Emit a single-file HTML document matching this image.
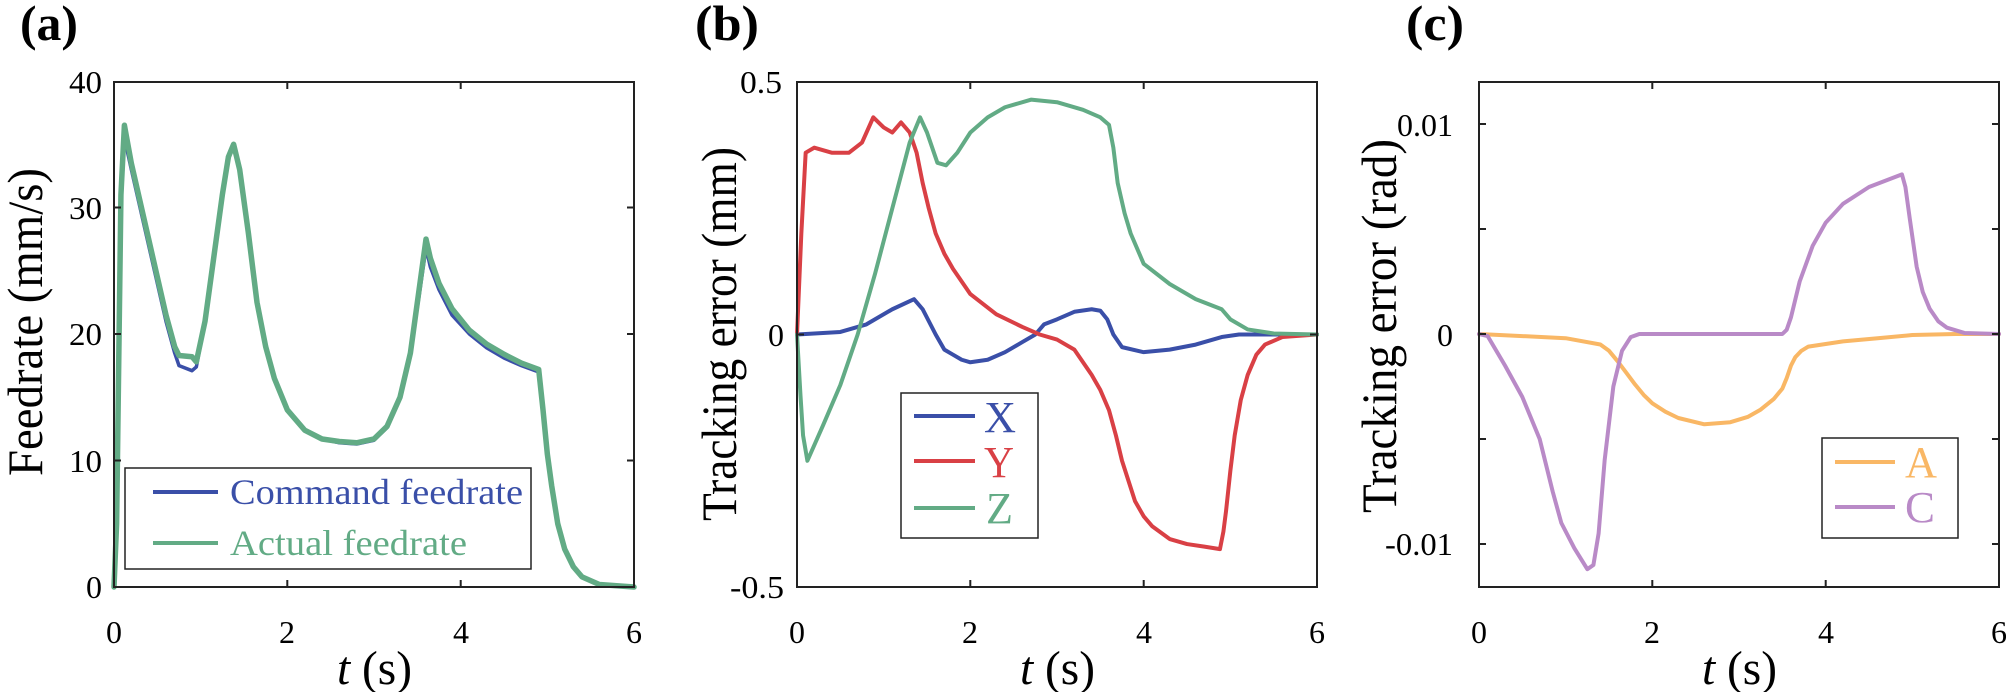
<!DOCTYPE html>
<html><head><meta charset="utf-8"><style>
html,body{margin:0;padding:0;background:#fff;}
svg{display:block;font-family:"Liberation Serif","DejaVu Serif","Times New Roman",serif;}
.tk{font-size:32px;fill:#000;}
.lab{font-size:50px;fill:#000;}
.xl{font-size:48px;fill:#000;}
.ttl{font-size:50px;font-weight:bold;fill:#000;}
.ax{fill:none;stroke:#222;stroke-width:2;}
.tm{stroke:#222;stroke-width:2;}
.ln{fill:none;vector-effect:non-scaling-stroke;stroke-linejoin:round;stroke-linecap:round;}
</style></head><body>
<svg width="2006" height="692" viewBox="0 0 2006 692" xmlns="http://www.w3.org/2000/svg">
<text class="ttl" x="20" y="40" textLength="58" lengthAdjust="spacingAndGlyphs">(a)</text>
<text class="ttl" x="695" y="40" textLength="64" lengthAdjust="spacingAndGlyphs">(b)</text>
<text class="ttl" x="1406" y="40" textLength="58" lengthAdjust="spacingAndGlyphs">(c)</text>

<!-- ===== Panel a ===== -->
<g transform="translate(114,587) scale(86.67,-12.65)">
<polyline class="ln" stroke="#3a4fa8" stroke-width="3.5" points="0,0 0.03,5 0.08,30 0.12,35.5 0.2,33 0.4,27 0.6,21 0.7,18.5 0.75,17.5 0.9,17.1 0.95,17.4 1.05,21 1.15,26 1.25,31 1.32,34 1.38,35 1.45,33 1.55,28 1.65,22.5 1.75,19 1.85,16.5 2,14 2.2,12.4 2.4,11.7 2.6,11.4 2.8,11.3 3,11.6 3.15,12.6 3.3,15 3.42,18.5 3.52,23 3.6,26.8 3.65,25.3 3.75,23.5 3.9,21.5 4.1,20 4.3,18.9 4.5,18.1 4.7,17.5 4.9,17 4.95,14 5,10.5 5.05,8 5.12,5 5.2,3 5.3,1.6 5.4,0.8 5.6,0.2 6,0"/>
<polyline class="ln" stroke="#62ab85" stroke-width="5.5" points="0,0 0.03,5 0.08,31 0.12,36.5 0.2,33.5 0.4,27.5 0.6,21.5 0.7,19 0.75,18.3 0.9,18.2 0.95,17.8 1.05,21 1.15,26 1.25,31 1.32,34 1.38,35 1.45,33 1.55,28 1.65,22.5 1.75,19 1.85,16.5 2,14 2.2,12.4 2.4,11.7 2.6,11.5 2.8,11.4 3,11.7 3.15,12.7 3.3,15 3.42,18.5 3.52,23.5 3.6,27.5 3.65,26 3.75,24 3.9,22 4.1,20.3 4.3,19.2 4.5,18.4 4.7,17.7 4.9,17.2 4.95,14 5,10.5 5.05,8 5.12,5 5.2,3 5.3,1.6 5.4,0.8 5.6,0.2 6,0"/>
</g>
<rect class="ax" x="114" y="82" width="520" height="505"/>
<g class="tm">
<line x1="287.3" y1="587" x2="287.3" y2="580"/><line x1="460.7" y1="587" x2="460.7" y2="580"/>
<line x1="287.3" y1="82" x2="287.3" y2="89"/><line x1="460.7" y1="82" x2="460.7" y2="89"/>
<line x1="114" y1="460.5" x2="121" y2="460.5"/><line x1="114" y1="334" x2="121" y2="334"/><line x1="114" y1="207.5" x2="121" y2="207.5"/>
<line x1="634" y1="460.5" x2="627" y2="460.5"/><line x1="634" y1="334" x2="627" y2="334"/><line x1="634" y1="207.5" x2="627" y2="207.5"/>
</g>
<g class="tk">
<text x="86" y="598" textLength="16" lengthAdjust="spacingAndGlyphs">0</text>
<text x="69" y="472" textLength="33" lengthAdjust="spacingAndGlyphs">10</text>
<text x="69" y="345" textLength="33" lengthAdjust="spacingAndGlyphs">20</text>
<text x="69" y="219" textLength="33" lengthAdjust="spacingAndGlyphs">30</text>
<text x="69" y="93" textLength="33" lengthAdjust="spacingAndGlyphs">40</text>
</g>
<g class="tk" text-anchor="middle">
<text x="114" y="643">0</text><text x="287" y="643">2</text><text x="461" y="643">4</text><text x="634" y="643">6</text>
</g>
<text class="lab" transform="translate(42,476) rotate(-90)" textLength="308" lengthAdjust="spacingAndGlyphs">Feedrate (mm/s)</text>
<text class="xl" x="337" y="684" textLength="75" lengthAdjust="spacingAndGlyphs"><tspan font-style="italic">t</tspan> (s)</text>
<rect x="125" y="468" width="406" height="101" fill="#fff" stroke="#222" stroke-width="1.5"/>
<line x1="153" y1="492" x2="218" y2="492" stroke="#3a4fa8" stroke-width="4"/>
<line x1="153" y1="543" x2="218" y2="543" stroke="#62ab85" stroke-width="4"/>
<text x="230" y="504" font-size="36" fill="#3a4fa8" textLength="293" lengthAdjust="spacingAndGlyphs">Command feedrate</text>
<text x="230" y="555" font-size="36" fill="#62ab85" textLength="237" lengthAdjust="spacingAndGlyphs">Actual feedrate</text>

<!-- ===== Panel b ===== -->
<g transform="translate(797,334.5) scale(86.67,-505)">
<polyline class="ln" stroke="#3a4fa8" stroke-width="4" points="0,0 0.5,0.005 0.8,0.02 1.1,0.05 1.35,0.07 1.45,0.05 1.6,0 1.7,-0.03 1.8,-0.04 1.9,-0.05 2,-0.055 2.2,-0.05 2.4,-0.035 2.6,-0.015 2.75,0 2.85,0.02 3,0.03 3.2,0.045 3.4,0.05 3.5,0.047 3.58,0.03 3.65,0 3.75,-0.025 4,-0.035 4.3,-0.03 4.6,-0.02 4.9,-0.005 5.1,0 6,0"/>
<polyline class="ln" stroke="#d94045" stroke-width="4" points="0,0 0.05,0.2 0.1,0.36 0.2,0.37 0.4,0.36 0.6,0.36 0.75,0.38 0.88,0.43 1,0.41 1.1,0.4 1.2,0.42 1.3,0.4 1.38,0.36 1.45,0.3 1.52,0.25 1.6,0.2 1.7,0.16 1.8,0.13 2,0.08 2.3,0.04 2.6,0.015 2.8,0 3,-0.01 3.2,-0.03 3.4,-0.08 3.5,-0.11 3.6,-0.15 3.68,-0.2 3.75,-0.25 3.9,-0.33 4,-0.36 4.1,-0.38 4.3,-0.405 4.5,-0.415 4.7,-0.42 4.88,-0.425 4.92,-0.39 4.95,-0.35 5,-0.27 5.05,-0.2 5.12,-0.13 5.2,-0.08 5.3,-0.04 5.4,-0.02 5.6,-0.005 6,0"/>
<polyline class="ln" stroke="#62ab85" stroke-width="4" points="0,0 0.04,-0.12 0.07,-0.2 0.12,-0.25 0.3,-0.18 0.5,-0.1 0.7,0 0.9,0.12 1.1,0.25 1.3,0.38 1.42,0.43 1.5,0.4 1.62,0.34 1.72,0.335 1.85,0.36 2,0.4 2.2,0.43 2.4,0.45 2.7,0.465 3,0.46 3.3,0.445 3.5,0.43 3.6,0.415 3.65,0.37 3.7,0.3 3.78,0.24 3.85,0.2 4,0.14 4.3,0.1 4.6,0.07 4.9,0.05 5,0.03 5.2,0.01 5.5,0.002 6,0"/>
</g>
<rect class="ax" x="797" y="82" width="520" height="505"/>
<g class="tm">
<line x1="970.3" y1="587" x2="970.3" y2="580"/><line x1="1143.7" y1="587" x2="1143.7" y2="580"/>
<line x1="970.3" y1="82" x2="970.3" y2="89"/><line x1="1143.7" y1="82" x2="1143.7" y2="89"/>
<line x1="797" y1="334.5" x2="804" y2="334.5"/><line x1="1317" y1="334.5" x2="1310" y2="334.5"/>
</g>
<g class="tk">
<text x="730" y="598" textLength="54" lengthAdjust="spacingAndGlyphs">-0.5</text>
<text x="768" y="346" textLength="16" lengthAdjust="spacingAndGlyphs">0</text>
<text x="740" y="93" textLength="42" lengthAdjust="spacingAndGlyphs">0.5</text>
</g>
<g class="tk" text-anchor="middle">
<text x="797" y="643">0</text><text x="970" y="643">2</text><text x="1144" y="643">4</text><text x="1317" y="643">6</text>
</g>
<text class="lab" transform="translate(736,521) rotate(-90)" textLength="374" lengthAdjust="spacingAndGlyphs">Tracking error (mm)</text>
<text class="xl" x="1020" y="684" textLength="75" lengthAdjust="spacingAndGlyphs"><tspan font-style="italic">t</tspan> (s)</text>
<rect x="901" y="393" width="137" height="145" fill="#fff" stroke="#222" stroke-width="1.5"/>
<line x1="914" y1="416" x2="975" y2="416" stroke="#3a4fa8" stroke-width="4"/>
<line x1="914" y1="461" x2="975" y2="461" stroke="#d94045" stroke-width="4"/>
<line x1="914" y1="508" x2="975" y2="508" stroke="#62ab85" stroke-width="4"/>
<text x="984" y="432" font-size="44" fill="#3a4fa8" textLength="32" lengthAdjust="spacingAndGlyphs">X</text>
<text x="984" y="477" font-size="44" fill="#d94045" textLength="30" lengthAdjust="spacingAndGlyphs">Y</text>
<text x="986" y="523" font-size="44" fill="#62ab85" textLength="27" lengthAdjust="spacingAndGlyphs">Z</text>

<!-- ===== Panel c ===== -->
<g transform="translate(1479,334) scale(86.67,-21)">
<polyline class="ln" stroke="#f9b765" stroke-width="4" points="0,0 1,-0.2 1.4,-0.5 1.5,-0.8 1.6,-1.3 1.7,-1.85 1.8,-2.4 1.9,-2.9 2,-3.3 2.15,-3.7 2.3,-4 2.6,-4.3 2.9,-4.2 3.1,-3.95 3.25,-3.6 3.4,-3.1 3.5,-2.6 3.55,-2.1 3.6,-1.5 3.65,-1.1 3.72,-0.8 3.8,-0.6 4.2,-0.35 4.6,-0.2 5,-0.05 5.5,0 6,0"/>
<polyline class="ln" stroke="#b98ac7" stroke-width="4" points="0,0 0.1,-0.1 0.3,-1.5 0.5,-3 0.7,-5 0.85,-7.5 0.95,-9 1.1,-10.2 1.25,-11.2 1.32,-11 1.38,-9.5 1.45,-6 1.55,-2.5 1.65,-0.8 1.75,-0.15 1.85,0 3.5,0 3.55,0.2 3.6,0.8 3.7,2.5 3.85,4.2 4,5.3 4.2,6.2 4.5,7 4.88,7.6 4.92,7 4.97,5.5 5.05,3.2 5.12,2 5.2,1.2 5.3,0.6 5.4,0.3 5.6,0.05 6,0"/>
</g>
<rect class="ax" x="1479" y="82" width="520" height="505"/>
<g class="tm">
<line x1="1652.3" y1="587" x2="1652.3" y2="580"/><line x1="1825.7" y1="587" x2="1825.7" y2="580"/>
<line x1="1652.3" y1="82" x2="1652.3" y2="89"/><line x1="1825.7" y1="82" x2="1825.7" y2="89"/>
<line x1="1479" y1="124" x2="1486" y2="124"/><line x1="1479" y1="229" x2="1486" y2="229"/><line x1="1479" y1="334" x2="1486" y2="334"/><line x1="1479" y1="439" x2="1486" y2="439"/><line x1="1479" y1="544" x2="1486" y2="544"/>
<line x1="1999" y1="124" x2="1992" y2="124"/><line x1="1999" y1="229" x2="1992" y2="229"/><line x1="1999" y1="334" x2="1992" y2="334"/><line x1="1999" y1="439" x2="1992" y2="439"/><line x1="1999" y1="544" x2="1992" y2="544"/>
</g>
<g class="tk">
<text x="1385" y="555" textLength="68" lengthAdjust="spacingAndGlyphs">-0.01</text>
<text x="1437" y="346" textLength="16" lengthAdjust="spacingAndGlyphs">0</text>
<text x="1397" y="136" textLength="56" lengthAdjust="spacingAndGlyphs">0.01</text>
</g>
<g class="tk" text-anchor="middle">
<text x="1479" y="643">0</text><text x="1652" y="643">2</text><text x="1826" y="643">4</text><text x="1999" y="643">6</text>
</g>
<text class="lab" transform="translate(1396,513) rotate(-90)" textLength="374" lengthAdjust="spacingAndGlyphs">Tracking error (rad)</text>
<text class="xl" x="1702" y="684" textLength="75" lengthAdjust="spacingAndGlyphs"><tspan font-style="italic">t</tspan> (s)</text>
<rect x="1822" y="438" width="136" height="100" fill="#fff" stroke="#222" stroke-width="1.5"/>
<line x1="1835" y1="462" x2="1895" y2="462" stroke="#f9b765" stroke-width="4"/>
<line x1="1835" y1="507" x2="1895" y2="507" stroke="#b98ac7" stroke-width="4"/>
<text x="1905" y="477" font-size="44" fill="#f9b765" textLength="32" lengthAdjust="spacingAndGlyphs">A</text>
<text x="1905" y="522" font-size="44" fill="#b98ac7" textLength="30" lengthAdjust="spacingAndGlyphs">C</text>
</svg>
</body></html>
